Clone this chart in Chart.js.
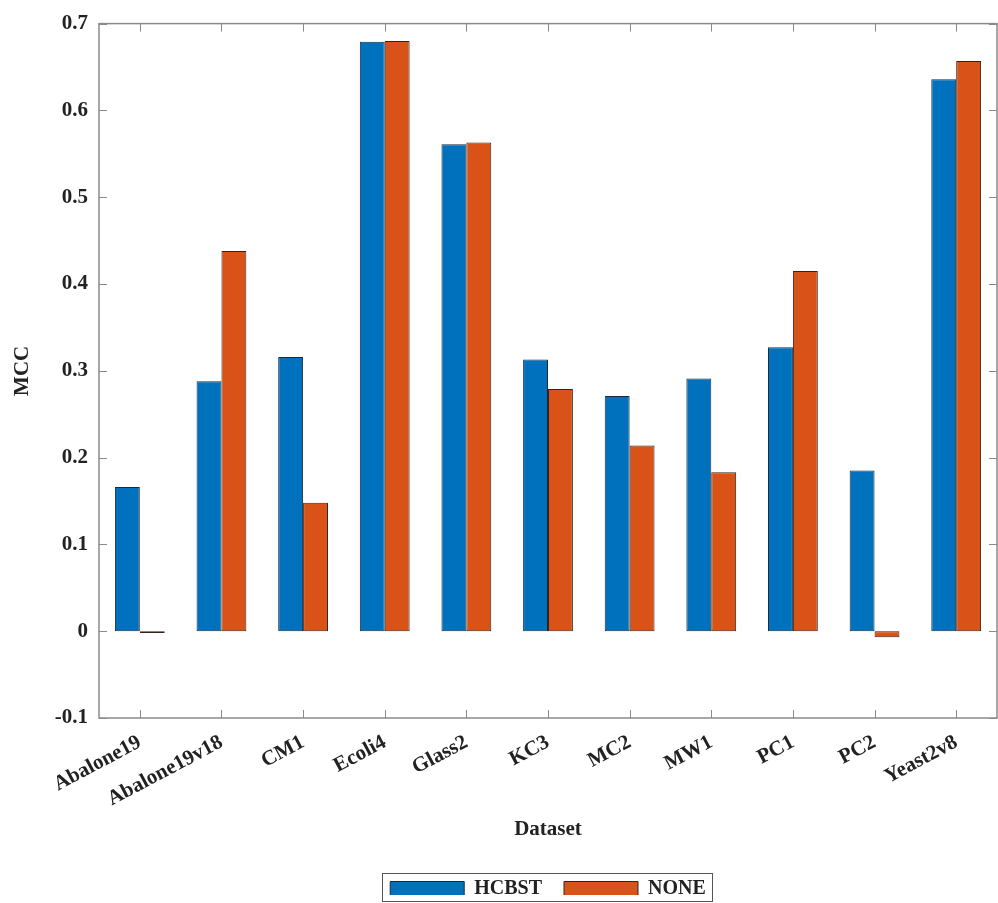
<!DOCTYPE html>
<html>
<head>
<meta charset="utf-8">
<script src="https://cdn.jsdelivr.net/npm/chart.js@4.4.1/dist/chart.umd.min.js"></script>
<style>
html,body{margin:0;padding:0;background:#fff;}
#wrap{width:998px;height:903px;position:relative;}
</style>
</head>
<body>
<div id="wrap"><canvas id="c" width="998" height="903"></canvas></div>
<script>
const categories = ['Abalone19','Abalone19v18','CM1','Ecoli4','Glass2','KC3','MC2','MW1','PC1','PC2','Yeast2v8'];
const hcbstValues = [0.166, 0.288, 0.316, 0.679, 0.561, 0.313, 0.271, 0.291, 0.327, 0.185, 0.636];
const noneValues = [-0.002, 0.438, 0.148, 0.680, 0.563, 0.279, 0.214, 0.183, 0.415, -0.007, 0.657];
const yTicks = [-0.1, 0, 0.1, 0.2, 0.3, 0.4, 0.5, 0.6, 0.7];
const seriesNames = ['HCBST', 'NONE'];

const FONT = "'Liberation Serif', 'Times New Roman', serif";
const AXIS_COLOR = '#8a8a8a';
const LEGEND_H = 38;
const LEGEND_ITEM_TOP = 879;

const boxPlugin = {
  id: 'matlabBox',
  beforeLayout(chart) {
    const lg = chart.legend;
    if (lg && !lg._patchedFit) {
      const orig = lg.fit.bind(lg);
      lg.fit = function () { orig(); this.height = LEGEND_H; this.minSize && (this.minSize.height = LEGEND_H); };
      lg._patchedFit = true;
    }
  },
  afterLayout(chart) {
    const lg = chart.legend;
    if (lg) {
      const a = chart.chartArea;
      const shift = (a.left + a.right) / 2 - (lg.left + lg.right) / 2;
      lg.left += shift; lg.right += shift;
      const pad = lg.options.labels.padding;
      const dy = LEGEND_ITEM_TOP - (lg.top + pad);
      lg.top += dy; lg.bottom += dy;
    }
  },
  afterDraw(chart) {
    const ctx = chart.ctx;
    const a = chart.chartArea;
    const xs = chart.scales.x, ys = chart.scales.y;
    ctx.save();
    ctx.strokeStyle = AXIS_COLOR;
    ctx.lineWidth = 1.5;
    ctx.strokeRect(a.left, a.top, a.right - a.left, a.bottom - a.top);
    ctx.lineWidth = 1;
    const tl = 8;
    ctx.beginPath();
    for (let i = 0; i < categories.length; i++) {
      const x = Math.round(xs.getPixelForValue(i)) + 0.5;
      ctx.moveTo(x, a.bottom); ctx.lineTo(x, a.bottom - tl);
      ctx.moveTo(x, a.top); ctx.lineTo(x, a.top + tl);
    }
    yTicks.forEach(v => {
      const y = Math.round(ys.getPixelForValue(v)) + 0.5;
      ctx.moveTo(a.left, y); ctx.lineTo(a.left + tl, y);
      ctx.moveTo(a.right, y); ctx.lineTo(a.right - tl, y);
    });
    ctx.stroke();
    const lg = chart.legend;
    if (lg && lg.legendHitBoxes && lg.legendHitBoxes.length) {
      let minX = Infinity, maxX = -Infinity, minY = Infinity, maxY = -Infinity;
      lg.legendHitBoxes.forEach(h => {
        minX = Math.min(minX, h.left); maxX = Math.max(maxX, h.left + h.width);
        minY = Math.min(minY, h.top); maxY = Math.max(maxY, h.top + h.height);
      });
      ctx.strokeStyle = '#555';
      ctx.lineWidth = 1;
      ctx.strokeRect(Math.round(minX - 8) + 0.5, Math.round(minY - 6) + 0.5, Math.round(maxX - minX + 14), Math.round(maxY - minY + 8));
    }
    ctx.restore();
  }
};

new Chart(document.getElementById('c'), {
  type: 'bar',
  data: {
    labels: categories,
    datasets: [
      { label: seriesNames[0], data: hcbstValues, backgroundColor: '#0072BD', borderColor: '#1b2a3a', borderWidth: 1, borderSkipped: false },
      { label: seriesNames[1], data: noneValues, backgroundColor: '#D95319', borderColor: '#3a2218', borderWidth: 1, borderSkipped: false }
    ]
  },
  options: {
    responsive: false,
    animation: false,
    devicePixelRatio: 1,
    layout: { padding: { top: 8, right: 1, left: 0, bottom: 3 } },
    datasets: { bar: { categoryPercentage: 0.61, barPercentage: 1.0 } },
    scales: {
      x: {
        offset: true,
        grid: { display: false, drawTicks: false },
        border: { display: false },
        ticks: {
          minRotation: 28, maxRotation: 28, padding: 12,
          color: '#222',
          font: { family: FONT, size: 21, weight: 'bold' }
        },
        title: {
          display: true, text: 'Dataset', color: '#222',
          font: { family: FONT, size: 21, weight: 'bold' },
          padding: { top: 4, bottom: 20 }
        },
        afterFit(s) { s.height = 144; }
      },
      y: {
        min: -0.1, max: 0.7,
        grid: { display: false, drawTicks: false },
        border: { display: false },
        afterBuildTicks(s) { s.ticks = yTicks.map(v => ({ value: v })); },
        ticks: {
          padding: 11, color: '#222',
          font: { family: FONT, size: 21, weight: 'bold' },
          callback: v => String(parseFloat(Number(v).toFixed(1)))
        },
        title: {
          display: true, text: 'MCC', color: '#222',
          font: { family: FONT, size: 21, weight: 'bold' },
          padding: { top: 10, bottom: 0 }
        },
        afterFit(s) { s.width = 99; }
      }
    },
    plugins: {
      legend: {
        position: 'bottom',
        labels: {
          boxWidth: 74, boxHeight: 15, padding: 22,
          color: '#222',
          font: { family: FONT, size: 20, weight: 'bold' }
        }
      },
      tooltip: { enabled: false }
    }
  },
  plugins: [boxPlugin]
});
</script>
</body>
</html>
